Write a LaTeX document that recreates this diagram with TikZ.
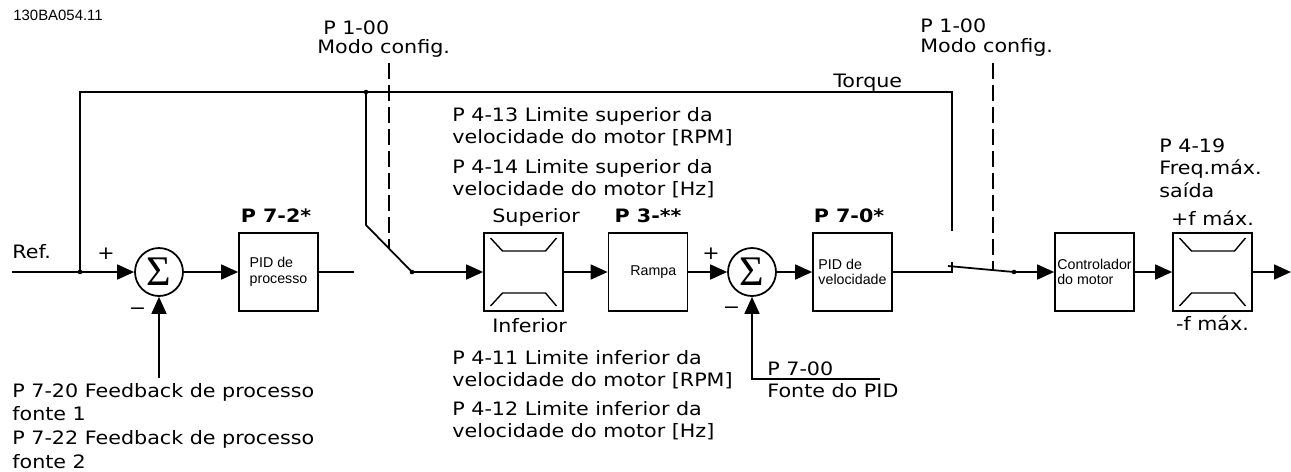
\documentclass[tikz,border=0pt]{standalone}
\usepackage{fontspec}
\setmainfont{DejaVu Sans}[FakeStretch=1.12]
\newfontfamily\boxfont{Liberation Sans}
\newfontfamily\sigmafont{Liberation Serif}
\usetikzlibrary{arrows.meta}

\tikzset{
  blk/.style={draw, line width=1pt, minimum width=1.58cm, minimum height=1.56cm,
    inner sep=0pt, align=left, font=\boxfont\fontsize{8.1}{8.8}\selectfont},
  summer/.style={draw, circle, line width=1pt, minimum size=0.96cm, inner sep=0pt,
    font=\sigmafont\fontsize{24}{24}\selectfont},
  sig/.style={line width=1pt, -{Triangle[length=0.34cm,width=0.3cm]}},
  wire/.style={line width=1pt},
  modeline/.style={line width=1pt, dash pattern=on 0.32cm off 0.12cm},
  lbl/.style={inner sep=0pt, align=left, font=\fontsize{10.5}{12.2}\selectfont},
  parlbl/.style={inner sep=0pt, anchor=base, font=\bfseries\fontsize{10.5}{12.2}\selectfont},
}

% inner marks of a speed limiter block
\newcommand\limlines[1]{%
  \draw[line width=0.8pt] ([shift={(-33,-34)}]#1.center) -- ([shift={(-21,-21)}]#1.center)
    -- ([shift={(22,-21)}]#1.center) -- ([shift={(33,-34)}]#1.center);
  \draw[line width=0.8pt] ([shift={(-33,34)}]#1.center) -- ([shift={(-21,21)}]#1.center)
    -- ([shift={(22,21)}]#1.center) -- ([shift={(33,34)}]#1.center);}

\begin{document}
\begin{tikzpicture}[x=0.02cm, y=-0.02cm]
  \useasboundingbox (0,0) rectangle (1291,471);

  % blocks
  \node[summer] (sum1) at (159,272) {Σ};
  \node[blk] (pidproc) at (278.5,272) {PID de\\processo};
  \node[blk] (lim1) at (523.5,272) {};
  \node[blk] (ramp) at (648,272) {\hspace*{6pt}Rampa};
  \node[summer] (sum2) at (752,272) {Σ};
  \node[blk] (pidvel) at (852.5,272) {PID de\\velocidade};
  \node[blk] (motctrl) at (1094.5,272) {Controlador\\do motor};
  \node[blk] (lim2) at (1212.5,272) {};
  \limlines{lim1}
  \limlines{lim2}

  % wiring points
  \coordinate (refin) at (12,272);
  \coordinate (refdot) at (80,272);
  \coordinate (topleft) at (80,92);
  \coordinate (trqdot) at (366,92);
  \coordinate (topright) at (952,92);
  \coordinate (trqend) at (952,231);
  \coordinate (sw1knee) at (366,225);
  \coordinate (sw1piv) at (412,272);
  \coordinate (procend) at (354,272);
  \coordinate (velcorner) at (952,272);
  \coordinate (velcont) at (952,262);
  \coordinate (blade2) at (948,266);
  \coordinate (sw2piv) at (1014,272);
  \coordinate (fb1) at (159,378);
  \coordinate (fb2) at (880,379);
  \coordinate (fb2c) at (752,379);
  \coordinate (outp) at (1291,272);
  \coordinate (mode1top) at (389,63);
  \coordinate (mode1bot) at (389,248.5);
  \coordinate (mode2top) at (993,63);
  \coordinate (mode2bot) at (993,269.7);

  % signal path
  \draw[sig] (refin) -- (sum1.west);
  \draw[wire] (refdot) -- (topleft) -- (topright) -- (trqend);
  \draw[sig] (sum1) -- (pidproc);
  \draw[wire] (pidproc.east) -- (procend);
  \draw[wire] (trqdot) -- (sw1knee) -- (sw1piv);
  \draw[sig] (sw1piv) -- (lim1);
  \draw[sig] (lim1) -- (ramp);
  \draw[sig] (ramp) -- (sum2);
  \draw[sig] (sum2) -- (pidvel);
  \draw[wire] (pidvel.east) -- (velcorner) -- (velcont);
  \draw[wire] (blade2) -- (sw2piv);
  \draw[sig] (sw2piv) -- (motctrl);
  \draw[sig] (motctrl) -- (lim2);
  \draw[sig] (lim2) -- (outp);
  \draw[sig] (fb1) -- (sum1.south);
  \draw[sig] (fb2) -- (fb2c) -- (sum2.south);
  \draw[modeline] (mode1top) -- (mode1bot);
  \draw[modeline] (mode2top) -- (mode2bot);
  \foreach \p in {refdot,trqdot,sw1piv,sw2piv}
    \fill (\p) circle[radius=1.3pt];

  % labels
  \node[inner sep=0pt, anchor=base west, font=\boxfont\fontsize{8.5}{9}\selectfont] (docid) at (13,20) {130BA054.11};
  \node[lbl, anchor=base west] (refl) at (12,258) {Ref.};
  \node[lbl] (plus1) at (106,254) {+};
  \node[lbl] (minus1) at (137.5,311) {−};
  \node[lbl] (plus2) at (711,254) {+};
  \node[lbl] (minus2) at (731.5,310) {−};
  \node[parlbl] (pidprocpar) at (276,222) {P 7-2*};
  \node[parlbl] (ramppar) at (648,222) {P 3-**};
  \node[parlbl] (pidvelpar) at (849,222) {P 7-0*};
  \node[lbl, anchor=base west] (supl) at (492,222) {Superior};
  \node[lbl, anchor=base west] (infl) at (492,332) {Inferior};
  \node[lbl, anchor=base] (fmaxp) at (1212.5,225) {+f máx.};
  \node[lbl, anchor=base] (fmaxm) at (1212.5,330) {-f máx.};
  \node[lbl, anchor=base west] (trql) at (833,87) {Torque};
  \node[lbl, anchor=base west, font=\fontsize{10.5}{10.4}\selectfont] (cfg1) at (317,53) {\hspace*{3.4pt}P 1-00\\Modo config.};
  \node[lbl, anchor=base west, font=\fontsize{10.5}{11.3}\selectfont] (cfg2) at (920,52) {P 1-00\\Modo config.};
  \node[lbl, anchor=base west] (uprpm) at (452,143) {P 4-13 Limite superior da\\velocidade do motor [RPM]};
  \node[lbl, anchor=base west] (uphz) at (452,195) {P 4-14 Limite superior da\\velocidade do motor [Hz]};
  \node[lbl, anchor=base west] (lowrpm) at (452,386) {P 4-11 Limite inferior da\\velocidade do motor [RPM]};
  \node[lbl, anchor=base west] (lowhz) at (452,437) {P 4-12 Limite inferior da\\velocidade do motor [Hz]};
  \node[lbl, anchor=base west, font=\fontsize{10.5}{13.4}\selectfont] (fbsrc) at (12,468) {P 7-20 Feedback de processo\\fonte 1\\P 7-22 Feedback de processo\\fonte 2};
  \node[lbl, anchor=base west, font=\fontsize{10.5}{12.5}\selectfont] (pidsrc) at (767,397) {P 7-00\\Fonte do PID};
  \node[lbl, anchor=base west, font=\fontsize{10.5}{12.75}\selectfont] (maxfreq) at (1159,197) {P 4-19\\Freq.máx.\\saída};
\end{tikzpicture}
\end{document}
